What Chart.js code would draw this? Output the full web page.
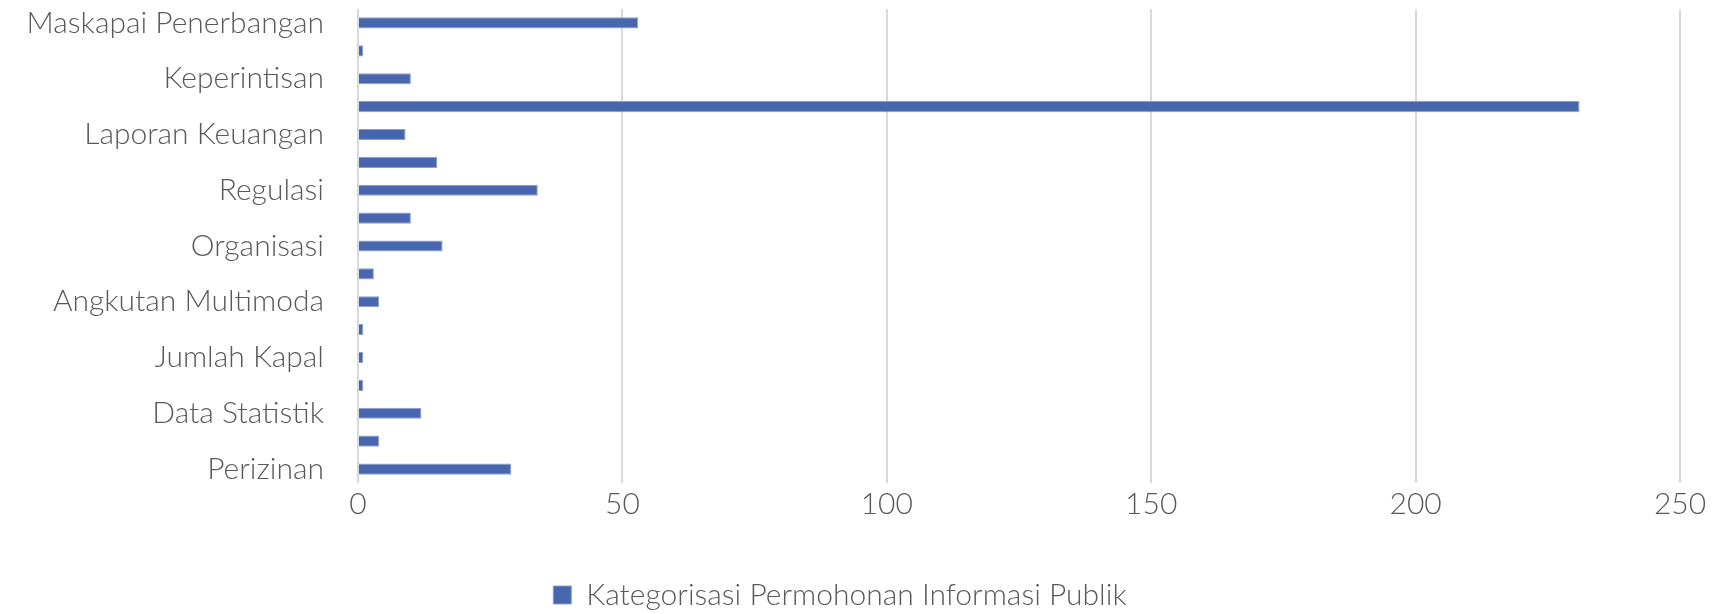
<!DOCTYPE html>
<html>
<head>
<meta charset="utf-8">
<script src="https://cdn.jsdelivr.net/npm/chart.js@4/dist/chart.umd.min.js"></script>
<style>
  html, body { margin: 0; padding: 0; background: #fff; }
  #wrap { width: 1723px; height: 614px; }
</style>
</head>
<body>
<div id="wrap"><canvas id="chart" width="1723" height="614"></canvas></div>
<script>
// Categories, top to bottom (unlabelled rows in the picture are left blank)
const categories = [
    'Maskapai Penerbangan', '', 'Keperintisan', '', 'Laporan Keuangan', '',
    'Regulasi', '', 'Organisasi', '', 'Angkutan Multimoda', '',
    'Jumlah Kapal', '', 'Data Statistik', '', 'Perizinan'
];
const requestCounts = [53, 1, 10, 231, 9, 15, 34, 10, 16, 3, 4, 1, 1, 1, 12, 4, 29];
const seriesName = 'Kategorisasi Permohonan Informasi Publik';
const xTicks = [0, 50, 100, 150, 200, 250];

const FONT = "Lato, 'Open Sans', sans-serif";
const textColor = '#595959';
const plotBottom = 483;
const bottomPad = -6; // pushes the legend a little lower

const ctx = document.getElementById('chart').getContext('2d');

let chart = new Chart(ctx, {
    type: 'bar',
    data: {
        labels: categories,
        datasets: [{
            label: seriesName,
            data: requestCounts,
            backgroundColor: '#4866ad',
            borderColor: '#8b9ed0',
            borderWidth: 1,
            categoryPercentage: 1,
            barPercentage: 0.4
        }]
    },
    options: {
        indexAxis: 'y',
        responsive: false,
        animation: false,
        layout: { autoPadding: false, padding: { top: 9, right: 43, bottom: bottomPad, left: 0 } },
        scales: {
            y: {
                grid: { display: false, drawTicks: false },
                border: { display: false },
                ticks: {
                    autoSkip: false,
                    color: textColor,
                    padding: 34,
                    font: { family: FONT, size: 30, weight: 300 }
                },
                afterFit: (scale) => {
                    scale.width = 358;
                    // tick padding would otherwise push the plot down
                    scale.paddingTop = 0;
                    scale.paddingBottom = 0;
                }
            },
            x: {
                min: xTicks[0],
                max: xTicks[xTicks.length - 1],
                afterBuildTicks: (scale) => { scale.ticks = xTicks.map(v => ({ value: v })); },
                grid: { color: '#d9d9d9', lineWidth: 2, drawTicks: false },
                border: { display: false },
                ticks: {
                    color: textColor,
                    padding: 3,
                    font: { family: FONT, size: 30, weight: 300 }
                },
                afterFit: (scale) => {
                    const legendH = scale.chart.legend ? scale.chart.legend.height : 40;
                    scale.height = scale.chart.height - bottomPad - legendH - plotBottom;
                }
            }
        },
        plugins: {
            legend: {
                position: 'bottom',
                labels: {
                    color: textColor,
                    boxWidth: 18,
                    boxHeight: 18,
                    padding: 4,
                    font: { family: FONT, size: 30, weight: 300, lineHeight: 1 }
                }
            },
            tooltip: { enabled: false }
        }
    }
});
</script>
</body>
</html>
